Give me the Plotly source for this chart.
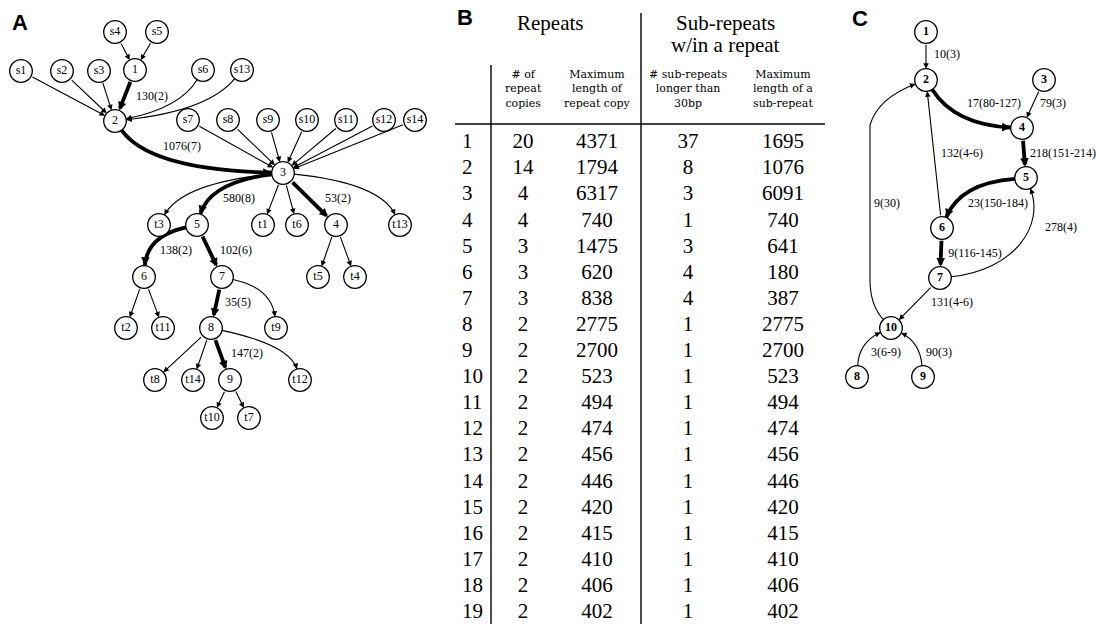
import math
import plotly.graph_objects as go

# ======================= DATA =======================
# Panel A: repeat graph (source / target nodes and repeat nodes)
a_nodes = ['s4', 's5', 's1', 's2', 's3', '1', 's6', 's13', '2', 's7', 's8', 's9', 's10',
           's11', 's12', 's14', '3', 't3', '5', 't1', 't6', '4', 't13', '6', '7', 't5',
           't4', 't2', 't11', '8', 't9', 't8', 't14', '9', 't12', 't10', 't7']
a_edges = [('s4', '1', ''), ('s5', '1', ''),
           ('s1', '2', ''), ('s2', '2', ''), ('s3', '2', ''), ('1', '2', '130(2)'),
           ('s6', '2', ''), ('s13', '2', ''),
           ('2', '3', '1076(7)'),
           ('s7', '3', ''), ('s8', '3', ''), ('s9', '3', ''), ('s10', '3', ''),
           ('s11', '3', ''), ('s12', '3', ''), ('s14', '3', ''),
           ('3', 't3', ''), ('3', '5', '580(8)'), ('3', 't1', ''), ('3', 't6', ''),
           ('3', '4', '53(2)'), ('3', 't13', ''),
           ('5', '6', '138(2)'), ('5', '7', '102(6)'),
           ('4', 't5', ''), ('4', 't4', ''),
           ('6', 't2', ''), ('6', 't11', ''),
           ('7', '8', '35(5)'), ('7', 't9', ''),
           ('8', 't8', ''), ('8', 't14', ''), ('8', '9', '147(2)'), ('8', 't12', ''),
           ('9', 't10', ''), ('9', 't7', '')]

# Panel B: table
repeat_ids = list(range(1, 20))
repeat_copies = [20, 14, 4, 4, 3, 3, 3, 2, 2, 2, 2, 2, 2, 2, 2, 2, 2, 2, 2]
max_repeat_len = [4371, 1794, 6317, 740, 1475, 620, 838, 2775, 2700, 523, 494, 474,
                  456, 446, 420, 415, 410, 406, 402]
n_subrepeats = [37, 8, 3, 1, 3, 4, 4, 1, 1, 1, 1, 1, 1, 1, 1, 1, 1, 1, 1]
max_sub_len = [1695, 1076, 6091, 740, 641, 180, 387, 2775, 2700, 523, 494, 474,
               456, 446, 420, 415, 410, 406, 402]
col_headers = [['# of', 'repeat', 'copies'],
               ['Maximum', 'length of', 'repeat copy'],
               ['# sub-repeats', 'longer than', '30bp'],
               ['Maximum', 'length of a', 'sub-repeat']]

# Panel C: sub-repeat graph
c_nodes = ['1', '2', '3', '4', '5', '6', '7', '8', '9', '10']
c_edges = [('1', '2', '10(3)'), ('2', '4', '17(80-127)'), ('3', '4', '79(3)'),
           ('4', '5', '218(151-214)'), ('6', '2', '132(4-6)'), ('5', '6', '23(150-184)'),
           ('10', '2', '9(30)'), ('7', '5', '278(4)'), ('6', '7', '9(116-145)'),
           ('7', '10', '131(4-6)'), ('8', '10', '3(6-9)'), ('9', '10', '90(3)')]

# ======================= LAYOUT (pixel positions / styles) =======================
W, H = 1099, 624
R = 11.3  # node radius (px)
SERIF = 'Liberation Serif'

a_pos = {'s4': (115, 32), 's5': (157, 32),
         's1': (21, 71), 's2': (62, 71), 's3': (99, 71), '1': (135, 70),
         's6': (203, 70), 's13': (242, 70),
         '2': (115, 121), 's7': (188, 120), 's8': (228, 120), 's9': (268, 120),
         's10': (307, 120), 's11': (346, 120), 's12': (384, 120), 's14': (415, 120),
         '3': (283, 173),
         't3': (159, 225), '5': (197, 225), 't1': (263, 225), 't6': (297, 225),
         '4': (336, 225), 't13': (400, 225),
         '6': (144, 277), '7': (222, 277), 't5': (318, 277), 't4': (355, 277),
         't2': (126, 328), 't11': (163, 328), '8': (211, 328), 't9': (276, 328),
         't8': (155, 380), 't14': (193, 380), '9': (230, 380), 't12': (300, 380),
         't10': (212, 418), 't7': (249, 418)}
a_routes = {('s6', '2'): [(180, 108)], ('s13', '2'): [(208, 111)],
            ('2', '3'): [(150, 170)], ('3', 't3'): [(182, 183)],
            ('3', '5'): [(210, 182)], ('3', 't13'): [(380, 183)],
            ('5', '6'): [(147, 236)], ('7', 't9'): [(272, 288)],
            ('8', 't12'): [(290, 345)]}
a_label_pos = {'130(2)': (152, 97), '1076(7)': (182, 147), '580(8)': (239, 199),
               '53(2)': (338, 199), '138(2)': (176, 251), '102(6)': (236, 251),
               '35(5)': (238, 303), '147(2)': (247, 354)}

c_pos = {'1': (926, 32), '2': (926, 80), '3': (1044, 80), '4': (1022, 128),
         '5': (1026, 178), '6': (942, 228), '7': (940, 278), '10': (891, 328),
         '8': (857, 377), '9': (923, 377)}
c_routes = {('2', '4'): [(955, 125)], ('5', '6'): [(960, 183)],
            ('7', '5'): [(1015, 270), (1045, 225)],
            ('8', '10'): [(859, 342)], ('9', '10'): [(920, 342)]}
c_poly = {('10', '2'): [(870, 305), (870, 280), (870, 125), (878, 98)]}
c_thick = {('2', '4'), ('4', '5'), ('5', '6'), ('6', '7')}
c_label_pos = {'10(3)': (947, 55), '17(80-127)': (994, 104), '79(3)': (1053, 104),
               '132(4-6)': (962, 154), '218(151-214)': (1063, 154), '9(30)': (887, 204),
               '23(150-184)': (998, 204), '278(4)': (1061, 228),
               '9(116-145)': (975, 254), '131(4-6)': (952, 303), '3(6-9)': (886, 353),
               '90(3)': (939, 353)}

THIN_W, THICK_W = 1.1, 3.8

fig = go.Figure()
shapes = []
annotations = []


def unit(dx, dy):
    d = math.hypot(dx, dy) or 1.0
    return dx / d, dy / d


def arrow(ex, ey, sx, sy, width, size):
    annotations.append(dict(x=ex, y=ey, ax=sx, ay=sy, xref='x', yref='y',
                            axref='x', ayref='y', text='', showarrow=True,
                            arrowhead=2, arrowsize=size, arrowwidth=width,
                            arrowcolor='black', standoff=0, startstandoff=0))


def draw_edge(p_src, p_dst, route, poly, thick):
    w = THICK_W if thick else THIN_W
    hs = 0.45 if thick else 1.0
    if poly is not None:
        first, last = poly[0], poly[-1]
    elif route:
        first, last = route[0], route[-1]
    else:
        first, last = p_dst, p_src
    ux, uy = unit(first[0] - p_src[0], first[1] - p_src[1])
    sx, sy = p_src[0] + R * ux, p_src[1] + R * uy
    vx, vy = unit(p_dst[0] - last[0], p_dst[1] - last[1])
    ex, ey = p_dst[0] - R * vx, p_dst[1] - R * vy
    if poly is None and not route:
        arrow(ex, ey, sx, sy, w, hs)
        return
    if poly is not None:
        p = poly
        path = (f'M {sx},{sy} Q {p[0][0]},{p[0][1]} {p[1][0]},{p[1][1]} '
                f'L {p[2][0]},{p[2][1]} Q {p[3][0]},{p[3][1]} {ex},{ey}')
    elif len(route) == 1:
        c = route[0]
        path = f'M {sx},{sy} Q {c[0]},{c[1]} {ex},{ey}'
    else:
        c1, c2 = route
        path = f'M {sx},{sy} C {c1[0]},{c1[1]} {c2[0]},{c2[1]} {ex},{ey}'
    shapes.append(dict(type='path', path=path, xref='x', yref='y', layer='below',
                       line=dict(color='black', width=w)))
    L = 7
    arrow(ex, ey, ex - L * vx, ey - L * vy, w, hs)


def draw_nodes(names, pos, bold=False):
    xs = [pos[n][0] for n in names]
    ys = [pos[n][1] for n in names]
    txt = [f'<b>{n}</b>' if bold else n for n in names]
    fig.add_trace(go.Scatter(x=xs, y=ys, mode='markers+text', text=txt,
                             textposition='middle center',
                             textfont=dict(family=SERIF, size=12, color='black'),
                             marker=dict(symbol='circle', size=2 * R, color='white',
                                         line=dict(color='black', width=1.3)),
                             hoverinfo='skip', showlegend=False, cliponaxis=False))


def edge_labels(labels, pos, bold=False):
    xs = [pos[l][0] for l in labels]
    ys = [pos[l][1] for l in labels]
    txt = [f'<b>{l}</b>' if bold else l for l in labels]
    fig.add_trace(go.Scatter(x=xs, y=ys, mode='text', text=txt,
                             textposition='middle center',
                             textfont=dict(family=SERIF, size=12, color='black'),
                             hoverinfo='skip', showlegend=False, cliponaxis=False))


# ---------- Panel A ----------
for s, d, lab in a_edges:
    draw_edge(a_pos[s], a_pos[d], a_routes.get((s, d)), None, lab != '')
draw_nodes(a_nodes, a_pos)
edge_labels([lab for _, _, lab in a_edges if lab], a_label_pos)

# ---------- Panel C ----------
for s, d, lab in c_edges:
    draw_edge(c_pos[s], c_pos[d], c_routes.get((s, d)), c_poly.get((s, d)),
              (s, d) in c_thick)
draw_nodes(c_nodes, c_pos, bold=True)
edge_labels([lab for _, _, lab in c_edges], c_label_pos)

# ---------- Panel B (table) ----------
ROW0, DROW = 143, 26.1
row_y = [ROW0 + DROW * i for i in range(len(repeat_ids))]
col_x = [523, 597, 688, 783]
fig.add_trace(go.Scatter(x=[462] * len(repeat_ids), y=row_y, mode='text',
                         text=[str(v) for v in repeat_ids], textposition='middle right',
                         textfont=dict(family=SERIF, size=21, color='black'),
                         hoverinfo='skip', showlegend=False, cliponaxis=False))
for cx, vals in zip(col_x, [repeat_copies, max_repeat_len, n_subrepeats, max_sub_len]):
    fig.add_trace(go.Scatter(x=[cx] * len(vals), y=row_y, mode='text',
                             text=[str(v) for v in vals], textposition='middle center',
                             textfont=dict(family=SERIF, size=21, color='black'),
                             hoverinfo='skip', showlegend=False, cliponaxis=False))
for cx, lines in zip(col_x, col_headers):
    annotations.append(dict(x=cx, y=89, xref='x', yref='y', text='<br>'.join(lines),
                            showarrow=False, align='center',
                            font=dict(family='DejaVu Serif', size=11, color='black')))
annotations.append(dict(x=550, y=23, xref='x', yref='y', text='Repeats', showarrow=False,
                        font=dict(family=SERIF, size=21, color='black')))
annotations.append(dict(x=725, y=23, xref='x', yref='y', text='Sub-repeats',
                        showarrow=False, font=dict(family=SERIF, size=21, color='black')))
annotations.append(dict(x=725, y=45, xref='x', yref='y', text='w/in a repeat',
                        showarrow=False, font=dict(family=SERIF, size=21, color='black')))
shapes.append(dict(type='line', x0=641, x1=641, y0=13, y1=H, xref='x', yref='y',
                   line=dict(color='black', width=1.4)))
shapes.append(dict(type='line', x0=491, x1=491, y0=65, y1=H, xref='x', yref='y',
                   line=dict(color='black', width=1.4)))
shapes.append(dict(type='line', x0=455, x1=825, y0=124, y1=124, xref='x', yref='y',
                   line=dict(color='black', width=1.4)))

# ---------- panel letters ----------
for letter, (lx, ly) in {'A': (20, 22), 'B': (465, 17), 'C': (860, 18)}.items():
    annotations.append(dict(x=lx, y=ly, xref='x', yref='y', text=f'<b>{letter}</b>',
                            showarrow=False,
                            font=dict(family='Liberation Sans', size=22, color='black')))

fig.update_layout(width=W, height=H, autosize=False,
                  margin=dict(l=0, r=0, t=0, b=0),
                  paper_bgcolor='white', plot_bgcolor='white',
                  shapes=shapes, annotations=annotations, showlegend=False,
                  xaxis=dict(range=[0, W], visible=False, fixedrange=True),
                  yaxis=dict(range=[H, 0], visible=False, fixedrange=True))

fig.write_html('out.html', config={'displayModeBar': False},
               post_script="document.body.style.margin='0px';")
